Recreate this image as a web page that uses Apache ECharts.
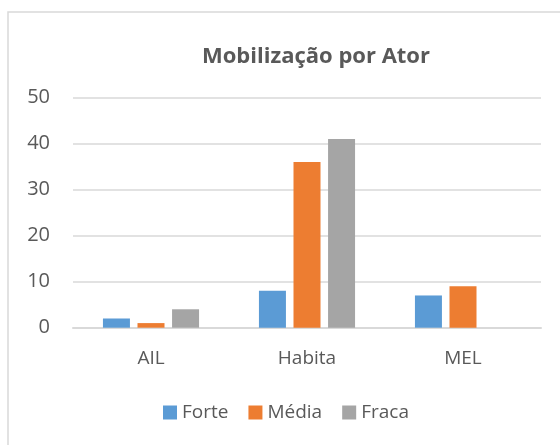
<!DOCTYPE html>
<html><head><meta charset="utf-8">
<script src="https://cdn.jsdelivr.net/npm/echarts@6/dist/echarts.min.js"></script>
<style>html,body{margin:0;padding:0;background:#fff}#c{width:560px;height:445px}</style>
</head><body><div id="c"></div>
<script>
const categories = ['AIL', 'Habita', 'MEL'];
const seriesNames = ['Forte', 'Média', 'Fraca'];
const forte = [2, 8, 7];
const media = [1, 36, 9];
const fraca = [4, 41, null];
const colors = ['#5B9BD5', '#ED7D31', '#A5A5A5'];
const font = '"Open Sans", sans-serif';
const chart = echarts.init(document.getElementById('c'));
chart.setOption({
  animation: false,
  color: colors,
  title: {
    text: 'Mobilização por Ator', left: 197, top: 41,
    textStyle: { fontFamily: font, fontSize: 22, fontWeight: 'bold', color: '#595959' }
  },
  graphic: [{
    type: 'rect', shape: { x: 8, y: 12, width: 700, height: 600 },
    style: { fill: 'none', stroke: '#d9d9d9', lineWidth: 1.5 }, silent: true, z: -1
  }],
  grid: { left: 73, right: 19, top: 97.5, bottom: 117.3 },
  legend: {
    data: seriesNames, top: 398, left: 158, itemWidth: 14, itemHeight: 14, itemGap: 20,
    icon: 'rect',
    textStyle: { fontFamily: font, fontSize: 19, color: '#595959' }
  },
  xAxis: {
    type: 'category', data: categories,
    axisLine: { lineStyle: { color: '#d9d9d9', width: 2 } },
    axisTick: { show: false },
    axisLabel: { fontFamily: font, fontSize: 19, color: '#595959', margin: 21 }
  },
  yAxis: {
    type: 'value', min: 0, max: 50, interval: 10,
    axisLine: { show: false }, axisTick: { show: false },
    splitLine: { lineStyle: { color: '#d9d9d9', width: 1.5 } },
    axisLabel: { fontFamily: font, fontSize: 20, color: '#595959', margin: 23 }
  },
  series: [
    { name: seriesNames[0], type: 'bar', data: forte, barWidth: 27, barGap: '28%' },
    { name: seriesNames[1], type: 'bar', data: media, barWidth: 27, barGap: '28%' },
    { name: seriesNames[2], type: 'bar', data: fraca, barWidth: 27, barGap: '28%' }
  ]
});
</script></body></html>
